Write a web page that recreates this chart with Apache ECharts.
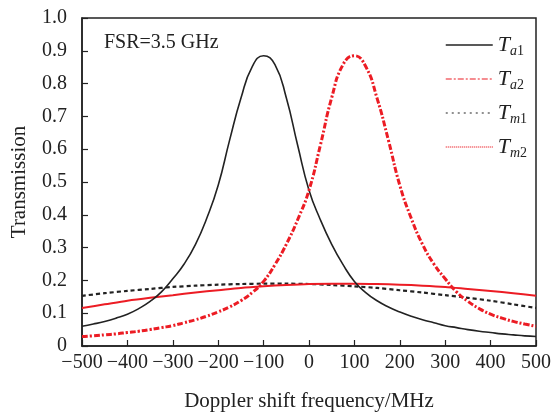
<!DOCTYPE html>
<html>
<head>
<meta charset="utf-8">
<script src="https://cdn.jsdelivr.net/npm/echarts@6/dist/echarts.min.js"></script>
<style>html,body{margin:0;padding:0;background:#fff}#c{width:554px;height:417px}</style>
</head>
<body>
<div id="c"></div>
<script>
// Doppler shift frequency (MHz)
var freqA = [-500,-475,-450,-425,-400,-375,-350,-325,-300,-275,-250,-225,-200,-175,-150,-125,-100,-75,-50,-25,0,25,50,75,100,125,150,175,200,225,250,275,300,325,350,375,400,425,450,475,500];
var Ta1 = [0.060,0.067,0.075,0.085,0.097,0.114,0.136,0.165,0.205,0.25,0.31,0.39,0.49,0.627,0.755,0.852,0.885,0.858,0.757,0.612,0.475,0.385,0.31,0.248,0.197,0.163,0.138,0.119,0.104,0.091,0.080,0.071,0.062,0.056,0.050,0.045,0.041,0.037,0.034,0.031,0.029];
var Ta2 = [0.029,0.031,0.034,0.037,0.041,0.045,0.050,0.056,0.062,0.071,0.080,0.091,0.104,0.119,0.138,0.163,0.197,0.248,0.31,0.385,0.475,0.612,0.757,0.858,0.885,0.852,0.755,0.627,0.49,0.39,0.31,0.25,0.205,0.165,0.136,0.114,0.097,0.085,0.075,0.067,0.060];
var freqM = [-500,-450,-400,-350,-300,-250,-200,-150,-100,-50,0,50,100,150,200,250,300,350,400,450,500];
var Tm1 = [0.153,0.161,0.168,0.174,0.180,0.184,0.187,0.189,0.190,0.190,0.189,0.186,0.182,0.177,0.170,0.163,0.155,0.147,0.138,0.127,0.116];
var Tm2 = [0.116,0.127,0.138,0.147,0.155,0.163,0.170,0.177,0.182,0.186,0.189,0.190,0.190,0.189,0.187,0.184,0.180,0.174,0.168,0.161,0.153];
var legendText = {Ta1:['a','1'], Ta2:['a','2'], Tm1:['m','1'], Tm2:['m','2']};

function pairs(xs, ys){ return xs.map(function(x,i){ return [x, ys[i]]; }); }
var RED = '#ec1c24';
var FONT = 'Liberation Serif';

var chart = echarts.init(document.getElementById('c'), null, {renderer:'canvas'});
chart.setOption({
  animation:false,
  backgroundColor:'#fff',
  grid:{left:82, right:18, top:18, bottom:66, show:true, borderColor:'#222', borderWidth:1.5, backgroundColor:'transparent'},
  xAxis:{
    type:'value', min:-500, max:500, interval:100,
    name:'Doppler shift frequency/MHz', nameLocation:'middle', nameGap:45,
    nameTextStyle:{fontFamily:FONT, fontSize:21, color:'#222'},
    axisLine:{onZero:false, lineStyle:{color:'#222', width:1.5}},
    axisTick:{inside:true, length:6, lineStyle:{color:'#222', width:1.2}},
    splitLine:{show:false},
    axisLabel:{fontFamily:FONT, fontSize:20, color:'#222', margin:7,
      formatter:function(v){ return String(v).replace('-', '\u2212'); }}
  },
  yAxis:{
    type:'value', min:0, max:1.0, interval:0.1,
    name:'Transmission', nameLocation:'middle', nameGap:52,
    nameTextStyle:{fontFamily:FONT, fontSize:21, color:'#222'},
    axisLine:{show:true, onZero:false, lineStyle:{color:'#222', width:1.5}},
    axisTick:{show:true, inside:true, length:6, lineStyle:{color:'#222', width:1.2}},
    splitLine:{show:false},
    axisLabel:{fontFamily:FONT, fontSize:20, color:'#222', margin:15,
      formatter:function(v){ return v === 0 ? '0' : v.toFixed(1); }}
  },
  legend:{
    orient:'vertical', left:445, top:32, padding:0, itemWidth:47, itemHeight:14, itemGap:8,
    data:[
      {name:'Ta1', itemStyle:{opacity:0}, lineStyle:{color:'#222', width:1.5, type:'solid'}},
      {name:'Ta2', itemStyle:{opacity:0}, lineStyle:{color:RED, width:1.2, type:[6,2,2,2]}},
      {name:'Tm1', itemStyle:{opacity:0}, lineStyle:{color:'#222', width:1.2, type:[2,4]}},
      {name:'Tm2', itemStyle:{opacity:0}, lineStyle:{color:RED, width:1.2, type:[1,1]}}
    ],
    formatter:function(n){ var p = legendText[n]; return '{t|T}{si|' + p[0] + '}{sn|' + p[1] + '}'; },
    textStyle:{
      rich:{
        t:{fontFamily:FONT, fontStyle:'italic', fontSize:22, color:'#222', lineHeight:22, verticalAlign:'top'},
        si:{fontFamily:FONT, fontStyle:'italic', fontSize:14, color:'#222', lineHeight:12, padding:[12,0,0,0]},
        sn:{fontFamily:FONT, fontSize:14, color:'#222', lineHeight:12, padding:[12,0,0,0]}
      }
    }
  },
  graphic:[{type:'text', left:104, top:33, style:{text:'FSR=3.5 GHz', font:'20px "Liberation Serif"', fill:'#222'}}],
  series:[
    {name:'Tm1', type:'line', data:pairs(freqM, Tm1), symbol:'none', smooth:0.3, z:3,
      lineStyle:{color:'#222', width:2.2, type:[4,3]}, itemStyle:{color:'#222'}},
    {name:'Tm2', type:'line', data:pairs(freqM, Tm2), symbol:'none', smooth:0.3, z:3,
      lineStyle:{color:RED, width:2, type:'solid'}, itemStyle:{color:RED}},
    {name:'Ta1', type:'line', data:pairs(freqA, Ta1), symbol:'none', smooth:0.5, z:4,
      lineStyle:{color:'#222', width:1.6, type:'solid'}, itemStyle:{color:'#222'}},
    {name:'Ta2', type:'line', data:pairs(freqA, Ta2), symbol:'none', smooth:0.5, z:5,
      lineStyle:{color:RED, width:3, type:[6,2,2,2]}, itemStyle:{color:RED}}
  ]
});
</script>
</body>
</html>
